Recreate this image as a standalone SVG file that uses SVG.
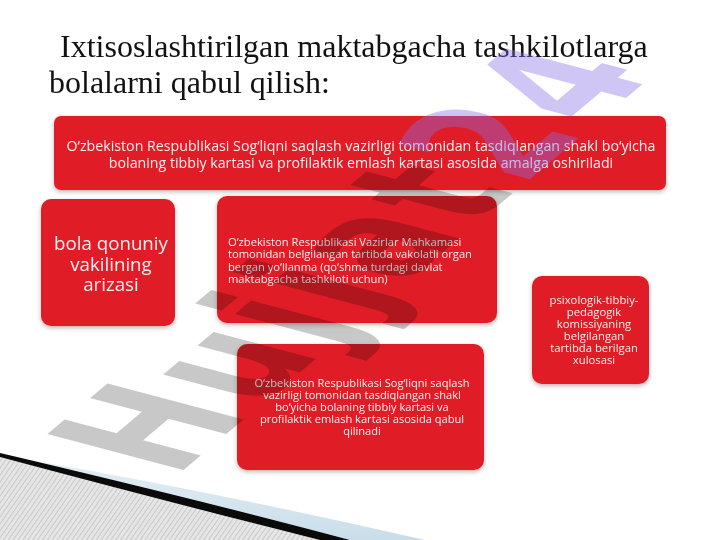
<svg xmlns="http://www.w3.org/2000/svg" width="720" height="540" viewBox="0 0 720 540">
  <defs>
    <filter id="sh" x="-10%" y="-10%" width="120%" height="130%">
      <feDropShadow dx="0" dy="2" stdDeviation="2" flood-color="#5a2a2a" flood-opacity="0.35"/>
    </filter>
    <pattern id="hatch" width="4" height="4" patternUnits="userSpaceOnUse" patternTransform="rotate(35)">
      <rect width="4" height="4" fill="#e6e6e6"/>
      <line x1="0" y1="0" x2="0" y2="4" stroke="#b8b8b8" stroke-width="1.3"/>
    </pattern>
    <linearGradient id="blue" x1="0" y1="0" x2="0" y2="1">
      <stop offset="0" stop-color="#e6f0f6"/>
      <stop offset="1" stop-color="#c9dde9"/>
    </linearGradient>
  </defs>
  <style>
    .title { font-family: "Liberation Serif", "Times New Roman", serif; font-size: 32px; fill: #111; }
    .box { fill: #e01e26; filter: url(#sh); }
    .t { font-family: "Open Sans", "Noto Sans", sans-serif; fill: #fff; fill-opacity: 0.93; }
    .c { text-anchor: middle; }
    .wm { font-family: "DejaVu Sans", sans-serif; font-weight: bold; font-size: 100px; letter-spacing: 6.5px; }
  </style>
  <rect width="720" height="540" fill="#ffffff"/>

  <!-- bottom-left decoration -->
  <path d="M0,457 Q180,505 320,540 L0,540 Z" fill="url(#hatch)"/>
  <path d="M30,460 Q220,493 425,540 L350,540 Q200,500 0,453 Z" fill="url(#blue)"/>
  <path d="M0,453 Q200,500 350,540 L320,540 Q180,505 0,457 Z" fill="#0a0a0a"/>

  <!-- title -->
  <text class="title" x="60" y="57">Ixtisoslashtirilgan maktabgacha tashkilotlarga</text>
  <text class="title" x="49" y="93">bolalarni qabul qilish:</text>

  <g id="node-top">
    <rect class="box" x="54" y="116" width="612" height="74" rx="7"/>
    <text class="t c" font-size="14.2" x="361" y="151">O‘zbekiston Respublikasi Sog‘liqni saqlash vazirligi tomonidan tasdiqlangan shakl bo‘yicha</text>
    <text class="t c" font-size="14.2" x="361" y="168">bolaning tibbiy kartasi va profilaktik emlash kartasi asosida amalga oshiriladi</text>
  </g>

  <g id="node-ariza">
    <rect class="box" x="41" y="199" width="134" height="127" rx="10"/>
    <text class="t c" font-size="18.7" x="111" y="250">bola qonuniy</text>
    <text class="t c" font-size="18.7" x="111" y="270.5">vakilining</text>
    <text class="t c" font-size="18.7" x="111" y="291">arizasi</text>
  </g>

  <g id="node-vazirlar">
    <rect class="box" x="217" y="196" width="280" height="127" rx="10"/>
    <text class="t" font-size="11.2" x="228" y="245.5">O‘zbekiston Respublikasi Vazirlar Mahkamasi</text>
    <text class="t" font-size="11.2" x="228" y="258">tomonidan belgilangan tartibda vakolatli organ</text>
    <text class="t" font-size="11.2" x="228" y="270.5">bergan yo‘llanma (qo‘shma turdagi davlat</text>
    <text class="t" font-size="11.2" x="228" y="283">maktabgacha tashkiloti uchun)</text>
  </g>

  <g id="node-sogliq">
    <rect class="box" x="237" y="344" width="247" height="126" rx="10"/>
    <text class="t c" font-size="11.1" x="362" y="387">O‘zbekiston Respublikasi Sog‘liqni saqlash</text>
    <text class="t c" font-size="11.1" x="362" y="399">vazirligi tomonidan tasdiqlangan shakl</text>
    <text class="t c" font-size="11.1" x="362" y="411">bo‘yicha bolaning tibbiy kartasi va</text>
    <text class="t c" font-size="11.1" x="362" y="423">profilaktik emlash kartasi asosida qabul</text>
    <text class="t c" font-size="11.1" x="362" y="435">qilinadi</text>
  </g>

  <g id="node-ppk">
    <rect class="box" x="532" y="276" width="117" height="108" rx="10"/>
    <text class="t c" font-size="11.3" x="594" y="304">psixologik-tibbiy-</text>
    <text class="t c" font-size="11.3" x="594" y="316">pedagogik</text>
    <text class="t c" font-size="11.3" x="594" y="328">komissiyaning</text>
    <text class="t c" font-size="11.3" x="594" y="340">belgilangan</text>
    <text class="t c" font-size="11.3" x="594" y="352">tartibda berilgan</text>
    <text class="t c" font-size="11.3" x="594" y="364">xulosasi</text>
  </g>

  <g id="connectors"></g>

  <!-- watermark -->
  <g id="watermark" transform="matrix(0.919,-0.772,1.866,0.492,175,477)">
    <text class="wm" x="0" y="0" fill="#c8c8c8" style="mix-blend-mode:multiply">Hujjat</text>
    <text class="wm" x="378" y="0" fill="#8a70e6" fill-opacity="0.4">24</text>
  </g>
</svg>
